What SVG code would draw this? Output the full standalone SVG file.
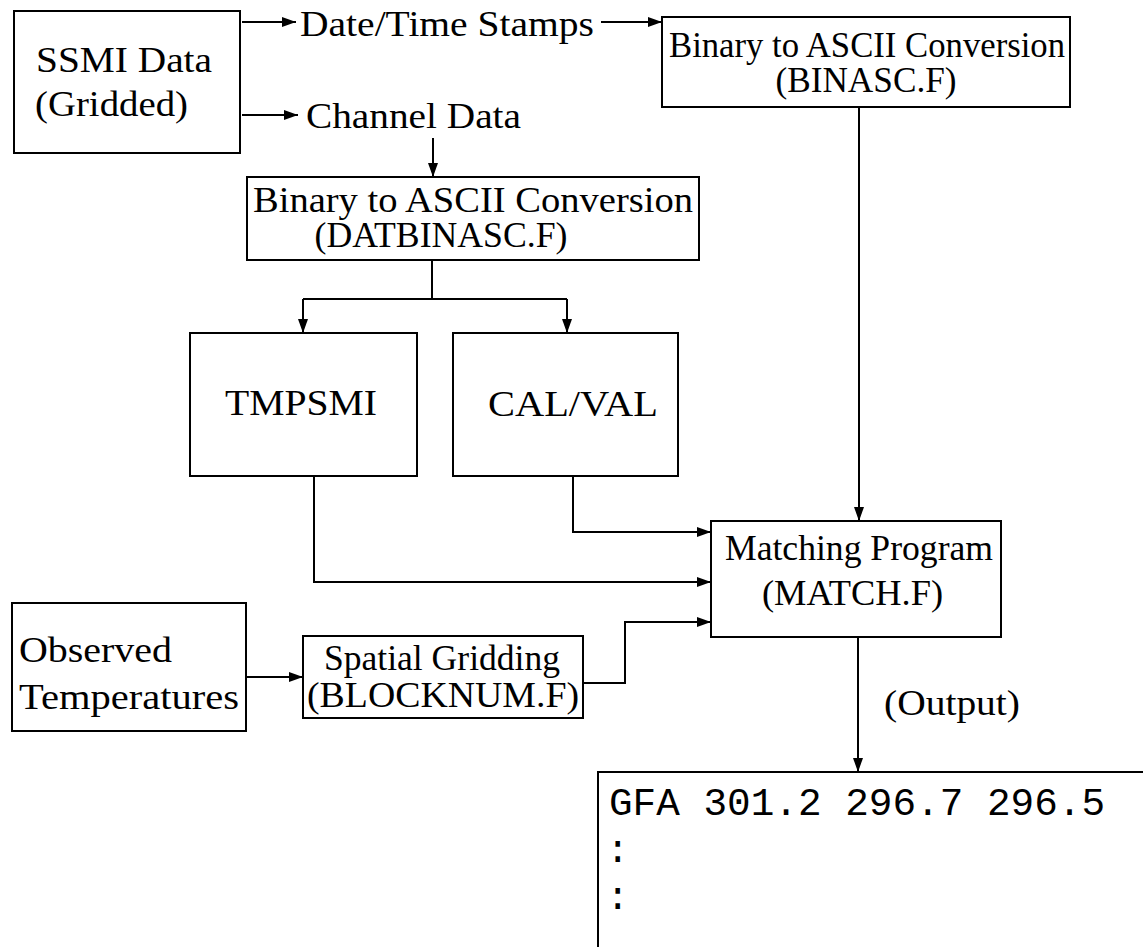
<svg xmlns="http://www.w3.org/2000/svg" width="1143" height="947" viewBox="0 0 1143 947">
<defs>
<marker id="ah" viewBox="0 0 14 10" refX="14" refY="5" markerWidth="14" markerHeight="10" markerUnits="userSpaceOnUse" orient="auto">
<path d="M0,0 L14,5 L0,10 Z" fill="#000"/>
</marker>
</defs>
<style>
.box{fill:#fff;stroke:#000;stroke-width:2}
.t{font-family:"Liberation Serif","Times New Roman",serif;font-size:35px;fill:#000}
.m{font-family:"Liberation Mono","Courier New",monospace;font-size:39px;fill:#000}
.c{fill:none;stroke:#000;stroke-width:2}
.a{fill:none;stroke:#000;stroke-width:2;marker-end:url(#ah)}
</style>
<rect width="1143" height="947" fill="#fff"/>
<g id="connectors">
<line class="a" x1="242" y1="22" x2="296" y2="22"/>
<line class="a" x1="601" y1="22" x2="662" y2="22"/>
<line class="a" x1="242" y1="115" x2="298" y2="115"/>
<line class="a" x1="433" y1="138" x2="433" y2="177"/>
<line class="a" x1="859" y1="107" x2="859" y2="521"/>
<polyline class="c" points="432,260 432,299"/>
<polyline class="a" points="303,299 303,333"/>
<polyline class="c" points="303,299 567,299"/>
<polyline class="a" points="567,299 567,333"/>
<polyline class="a" points="573,476 573,532 711,532"/>
<polyline class="a" points="314,476 314,582 711,582"/>
<line class="a" x1="246" y1="677" x2="303" y2="677"/>
<polyline class="a" points="583,683 625,683 625,622 711,622"/>
<line class="a" x1="858" y1="637" x2="858" y2="772"/>
</g>
<g id="ssmi">
<rect class="box" x="14" y="11" width="226" height="142"/>
<text class="t" x="36" y="72" textLength="176" lengthAdjust="spacingAndGlyphs">SSMI Data</text>
<text class="t" x="35" y="116" textLength="153" lengthAdjust="spacingAndGlyphs">(Gridded)</text>
</g>
<g id="datetime">
<text class="t" x="300" y="36" textLength="294" lengthAdjust="spacingAndGlyphs">Date/Time Stamps</text>
</g>
<g id="channel">
<text class="t" x="306" y="128" textLength="215" lengthAdjust="spacingAndGlyphs">Channel Data</text>
</g>
<g id="binasc">
<rect class="box" x="662" y="17" width="408" height="90"/>
<text class="t" x="669" y="57" textLength="396" lengthAdjust="spacingAndGlyphs">Binary to ASCII Conversion</text>
<text class="t" x="866" y="92" text-anchor="middle" textLength="181" lengthAdjust="spacingAndGlyphs">(BINASC.F)</text>
</g>
<g id="datbinasc">
<rect class="box" x="247" y="177" width="452" height="83"/>
<text class="t" x="253" y="212" textLength="440" lengthAdjust="spacingAndGlyphs">Binary to ASCII Conversion</text>
<text class="t" x="441" y="247" text-anchor="middle" textLength="253" lengthAdjust="spacingAndGlyphs">(DATBINASC.F)</text>
</g>
<g id="tmpsmi">
<rect class="box" x="190" y="333" width="227" height="143"/>
<text class="t" x="225" y="415" textLength="152" lengthAdjust="spacingAndGlyphs">TMPSMI</text>
</g>
<g id="calval">
<rect class="box" x="453" y="333" width="225" height="143"/>
<text class="t" x="488" y="416" textLength="170" lengthAdjust="spacingAndGlyphs">CAL/VAL</text>
</g>
<g id="match">
<rect class="box" x="711" y="521" width="290" height="116"/>
<text class="t" x="725" y="560" textLength="268" lengthAdjust="spacingAndGlyphs">Matching Program</text>
<text class="t" x="762" y="605" textLength="181" lengthAdjust="spacingAndGlyphs">(MATCH.F)</text>
</g>
<g id="observed">
<rect class="box" x="12" y="603" width="234" height="128"/>
<text class="t" x="19" y="662" textLength="153" lengthAdjust="spacingAndGlyphs">Observed</text>
<text class="t" x="19" y="709" textLength="220" lengthAdjust="spacingAndGlyphs">Temperatures</text>
</g>
<g id="spatial">
<rect class="box" x="303" y="636" width="280" height="82"/>
<text class="t" x="324" y="670" textLength="236" lengthAdjust="spacingAndGlyphs">Spatial Gridding</text>
<text class="t" x="307" y="707" textLength="272" lengthAdjust="spacingAndGlyphs">(BLOCKNUM.F)</text>
</g>
<g id="output-label">
<text class="t" x="884" y="715" textLength="136" lengthAdjust="spacingAndGlyphs">(Output)</text>
</g>
<g id="output">
<polyline class="c" points="598,947 598,772 1143,772"/>
<text class="m" x="609" y="815" textLength="496" lengthAdjust="spacingAndGlyphs">GFA 301.2 296.7 296.5</text>
<text class="m" x="606" y="862">:</text>
<text class="m" x="606" y="909">:</text>
</g>
</svg>
